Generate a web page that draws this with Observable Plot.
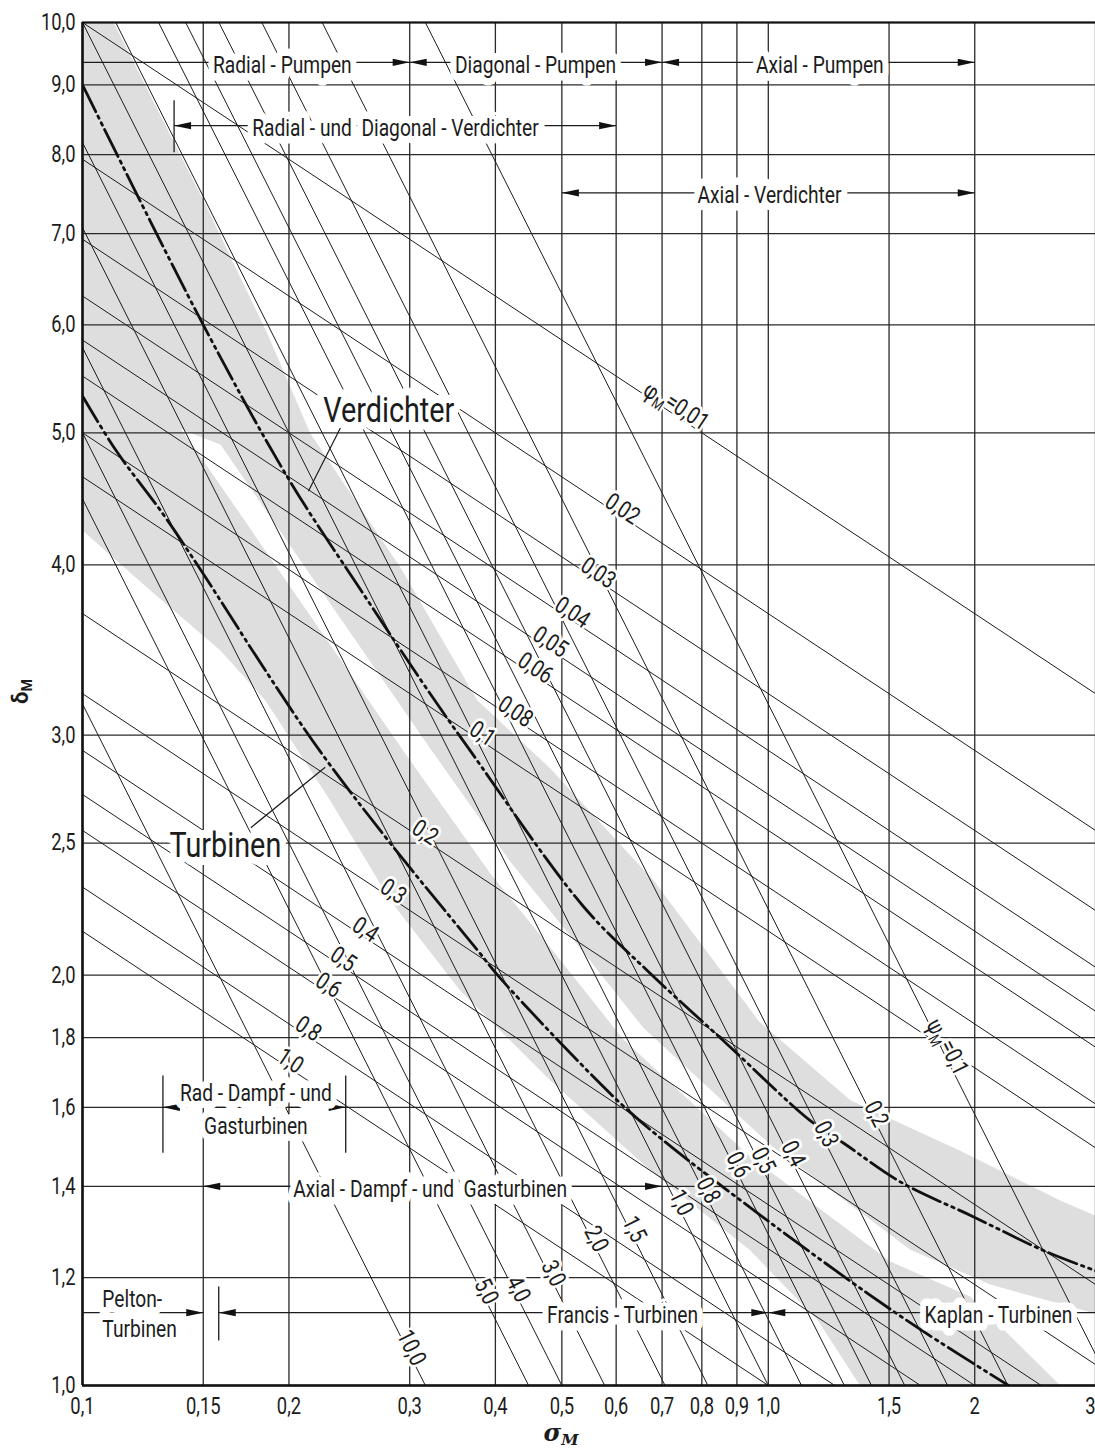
<!DOCTYPE html>
<html><head><meta charset="utf-8">
<script src="https://cdn.jsdelivr.net/npm/d3@7"></script>
<script src="https://cdn.jsdelivr.net/npm/@observablehq/plot@0.6"></script>
<style>body{margin:0;background:#fff;} #chart svg{display:block}</style>
</head><body><div id="chart"></div>
<script>
// ---------- axes ----------
const xTicks = [0.1, 0.15, 0.2, 0.3, 0.4, 0.5, 0.6, 0.7, 0.8, 0.9, 1.0, 1.5, 2, 3];
const xTickLabels = ["0,1","0,15","0,2","0,3","0,4","0,5","0,6","0,7","0,8","0,9","1,0","1,5","2","3"];
const yTicks = [1.0, 1.2, 1.4, 1.6, 1.8, 2.0, 2.5, 3.0, 4.0, 5.0, 6.0, 7.0, 8.0, 9.0, 10.0];
const yTickLabels = ["1,0","1,2","1,4","1,6","1,8","2,0","2,5","3,0","4,0","5,0","6,0","7,0","8,0","9,0","10,0"];

// ---------- lines of constant flow coefficient phi (end points) ----------
const phiValues     = [0.01, 0.02, 0.03, 0.04, 0.05, 0.06, 0.08, 0.1, 0.2, 0.3, 0.4, 0.5, 0.6, 0.8, 1.0];
const phiStartSigma = [0.1, 0.1, 0.1, 0.1, 0.1, 0.1, 0.1, 0.1, 0.1, 0.1, 0.1, 0.1, 0.1, 0.1, 0.1];
const phiStartDelta = [10.0, 7.937, 6.934, 6.300, 5.848, 5.503, 5.000, 4.642, 3.684, 3.218, 2.924, 2.714, 2.554, 2.321, 2.154];
const phiEndSigma   = [3, 3, 3, 3, 3, 3, 3, 3, 3, 3, 2.5, 2.0, 1.667, 1.25, 1.0];
const phiEndDelta   = [3.218, 2.554, 2.231, 2.027, 1.882, 1.771, 1.609, 1.494, 1.186, 1.036, 1, 1, 1, 1, 1];
const phiLabels     = ["φ_M=0,01","0,02","0,03","0,04","0,05","0,06","0,08","0,1","0,2","0,3","0,4","0,5","0,6","0,8","1,0"];
const phiLabelSigma = [0.732, 0.613, 0.565, 0.518, 0.481, 0.4575, 0.428, 0.383, 0.316, 0.284, 0.2585, 0.240, 0.2284, 0.2135, 0.201];

// ---------- lines of constant pressure coefficient psi ----------
const psiValues     = [0.1, 0.2, 0.3, 0.4, 0.5, 0.6, 0.8, 1.0, 1.5, 2.0, 3.0, 4.0, 5.0, 10.0];
const psiStartSigma = [0.3162, 0.2236, 0.1826, 0.1581, 0.1414, 0.1291, 0.1118, 0.1, 0.1, 0.1, 0.1, 0.1, 0.1, 0.1];
const psiStartDelta = [10, 10, 10, 10, 10, 10, 10, 10, 8.165, 7.071, 5.774, 5.0, 4.472, 3.162];
const psiEndSigma   = [3, 2.236, 1.826, 1.581, 1.414, 1.291, 1.118, 1.0, 0.8165, 0.7071, 0.5774, 0.5, 0.4472, 0.3162];
const psiEndDelta   = [1.054, 1, 1, 1, 1, 1, 1, 1, 1, 1, 1, 1, 1, 1];
const psiLabels     = ["ψ_M=0,1","0,2","0,3","0,4","0,5","0,6","0,8","1,0","1,5","2,0","3,0","4,0","5,0","10,0"];
const psiLabelSigma = [1.842, 1.457, 1.231, 1.102, 0.9967, 0.9166, 0.8287, 0.7568, 0.6463, 0.569, 0.4926, 0.4379, 0.3933, 0.3058];

// ---------- Cordier curves ----------
const verdichterSigma = [0.1, 0.15, 0.2, 0.254, 0.321, 0.368, 0.536, 0.67, 0.871, 1.15, 1.29, 1.56, 1.99, 2.52, 3.0];
const verdichterDelta = [9.0, 6.0, 4.62, 3.84, 3.22, 2.92, 2.25, 2.01, 1.78, 1.565, 1.505, 1.41, 1.33, 1.256, 1.214];
const turbinenSigma = [0.1, 0.112, 0.131, 0.149, 0.186, 0.222, 0.281, 0.377, 0.4065, 0.603, 0.703, 1.0, 1.397, 1.70, 2.24];
const turbinenDelta = [5.32, 4.85, 4.36, 3.96, 3.33, 2.92, 2.50, 2.085, 1.99, 1.618, 1.513, 1.32, 1.168, 1.092, 1.0];

// ---------- shaded scatter bands (outline points, partly outside the frame) ----------
const bandVSigma = [0.096, 0.111, 0.1501, 0.186, 0.2149, 0.2908, 0.3766, 0.4811, 0.6822, 0.9702, 1.317, 1.905, 2.665, 3.0, 3.152,
                    3.152, 3.0, 2.107, 1.611, 1.0067, 0.6573, 0.5268, 0.4206, 0.3184, 0.1589, 0.1413, 0.1299, 0.1, 0.096];
const bandVDelta = [10.38, 10.0, 7.403, 5.913, 4.994, 3.982, 3.181, 2.836, 2.343, 1.849, 1.619, 1.487, 1.367, 1.332, 1.317,
                    1.116, 1.129, 1.186, 1.258, 1.502, 1.830, 2.106, 2.423, 2.953, 4.902, 5.015, 5.11, 5.11, 5.11];
const bandTSigma = [0.096, 0.1, 0.1136, 0.1256, 0.1486, 0.2977, 0.3933, 0.4926, 0.6147, 0.9414, 1.506, 1.970, 2.665, 2.75,
                    1.36, 1.3604, 1.1809, 0.9414, 0.6733, 0.4811, 0.3553, 0.2811, 0.2298, 0.1848, 0.1589, 0.1256, 0.1, 0.096];
const bandTDelta = [6.149, 6.149, 5.745, 5.406, 4.804, 2.893, 2.375, 2.064, 1.794, 1.472, 1.233, 1.162, 1.0, 0.975,
                    0.975, 1.0, 1.116, 1.256, 1.438, 1.674, 1.949, 2.269, 2.686, 3.181, 3.462, 3.830, 4.240, 4.240];

// ---------- range bars ----------
const rangeFrom  = [0.1, 0.3, 0.7, 0.136, 0.5, 0.131, 0.15, 0.1, 0.158, 1.0];
const rangeTo    = [0.3, 0.7, 2.0, 0.6, 2.0, 0.242, 0.7, 0.15, 1.0, 3.0];
const rangeDelta = [9.35, 9.35, 9.35, 8.40, 7.50, 1.6, 1.4, 1.131, 1.131, 1.131];
const arrowSigma = [0.3, 0.3, 0.7, 0.7, 2.0, 0.136, 0.6, 0.5, 2.0, 0.131, 0.242, 0.15, 0.7, 0.15, 0.158, 1.0, 1.0];
const arrowDelta = [9.35, 9.35, 9.35, 9.35, 9.35, 8.40, 8.40, 7.50, 7.50, 1.6, 1.6, 1.4, 1.4, 1.131, 1.131, 1.131, 1.131];
const arrowDir   = ["r","l","r","l","r","l","r","l","r","l","r","l","r","r","l","r","l"];
const stopSigma  = [0.136, 0.131, 0.242, 0.158];
const stopTop    = [8.77, 1.688, 1.688, 1.182];
const stopBottom = [8.03, 1.482, 1.482, 1.079];

// ---------- annotation texts ----------
const noteText  = ["Radial - Pumpen", "Diagonal - Pumpen", "Axial - Pumpen", "Radial - und  Diagonal - Verdichter", "Axial - Verdichter",
                   "Rad - Dampf - und\nGasturbinen", "Axial - Dampf - und  Gasturbinen", "Francis - Turbinen", "Kaplan - Turbinen"];
const noteSigma = [0.1956, 0.4577, 1.189, 0.286, 1.004, 0.179, 0.3214, 0.613, 2.165];
const noteDelta = [9.35, 9.35, 9.35, 8.40, 7.50, 1.6, 1.4, 1.131, 1.131];
const peltonText  = ["Pelton-\nTurbinen"];
const peltonSigma = [0.1069];
const peltonDelta = [1.131];
const bigText  = ["Verdichter", "Turbinen"];
const bigSigma = [0.2796, 0.1616];
const bigDelta = [5.19, 2.49];
const leaderSigma1 = [0.2377, 0.176];
const leaderDelta1 = [5.04, 2.566];
const leaderSigma2 = [0.2135, 0.2259];
const leaderDelta2 = [4.53, 2.842];

// ---------- build tables ----------
const onLine = (s0, d0, s1, d1, s) => d0 * Math.pow(s / s0, Math.log(d1 / d0) / Math.log(s1 / s0));
const phiTable = phiValues.map((v, i) => ({v, s1: phiStartSigma[i], d1: phiStartDelta[i], s2: phiEndSigma[i], d2: phiEndDelta[i],
  label: phiLabels[i], ls: phiLabelSigma[i], ld: onLine(phiStartSigma[i], phiStartDelta[i], phiEndSigma[i], phiEndDelta[i], phiLabelSigma[i])}));
const psiTable = psiValues.map((v, i) => ({v, s1: psiStartSigma[i], d1: psiStartDelta[i], s2: psiEndSigma[i], d2: psiEndDelta[i],
  label: psiLabels[i], ls: psiLabelSigma[i], ld: onLine(psiStartSigma[i], psiStartDelta[i], psiEndSigma[i], psiEndDelta[i], psiLabelSigma[i])}));
const pts = (S, D) => S.map((s, i) => ({s, d: D[i]}));
const verdichter = pts(verdichterSigma, verdichterDelta);
const turbinen = pts(turbinenSigma, turbinenDelta);
const bandV = pts(bandVSigma, bandVDelta);
const bandT = pts(bandTSigma, bandTDelta);
const ranges = rangeFrom.map((a, i) => ({a, b: rangeTo[i], d: rangeDelta[i]}));
const arrows = arrowSigma.map((s, i) => ({s, d: arrowDelta[i], dir: arrowDir[i]}));
const stops = stopSigma.map((s, i) => ({s, t: stopTop[i], b: stopBottom[i]}));
const notes = noteText.map((t, i) => ({t, s: noteSigma[i], d: noteDelta[i]}));
const pelton = peltonText.map((t, i) => ({t, s: peltonSigma[i], d: peltonDelta[i]}));
const bigs = bigText.map((t, i) => ({t, s: bigSigma[i], d: bigDelta[i]}));
const leaders = leaderSigma1.map((s, i) => ({s1: s, d1: leaderDelta1[i], s2: leaderSigma2[i], d2: leaderDelta2[i]}));
const xLab = new Map(xTicks.map((t, i) => [t, xTickLabels[i]]));
const yLab = new Map(yTicks.map((t, i) => [t, yTickLabels[i]]));

// narrow filled arrowhead, tip at the anchor point, pointing right
const arrowHead = {draw(ctx) { ctx.moveTo(0, 0); ctx.lineTo(-17, -3.6); ctx.lineTo(-17, 3.6); ctx.closePath(); }};

const FONT = "Roboto,'Liberation Sans',sans-serif";
const INK = "#1c1c1c";
const BAND = "#dedede";
const halo = (w) => ({stroke: "#fff", strokeWidth: w, strokeLinejoin: "round", paintOrder: "stroke"});

const chart = Plot.plot({
  width: 1095, height: 1452,
  marginLeft: 82, marginRight: 0, marginTop: 22, marginBottom: 67,
  x: {type: "log", domain: [0.1, 3]},
  y: {type: "log", domain: [1, 10]},
  style: {fontFamily: FONT, background: "#fff", color: INK},
  marks: [
    // scatter bands
    Plot.line(bandV, {x: "s", y: "d", fill: BAND, stroke: "none", curve: "linear-closed", clip: true}),
    Plot.line(bandT, {x: "s", y: "d", fill: BAND, stroke: "none", curve: "linear-closed", clip: true}),
    // grid
    Plot.ruleX(xTicks, {stroke: "#2a2a2a", strokeWidth: 1.3}),
    Plot.ruleY(yTicks, {stroke: "#2a2a2a", strokeWidth: 1.3}),
    // iso lines
    Plot.link(phiTable, {x1: "s1", y1: "d1", x2: "s2", y2: "d2", stroke: INK, strokeWidth: 1, clip: true}),
    Plot.link(psiTable, {x1: "s1", y1: "d1", x2: "s2", y2: "d2", stroke: INK, strokeWidth: 1, clip: true}),
    // Cordier curves
    Plot.line(verdichter, {x: "s", y: "d", stroke: "#111", strokeWidth: 2.8, curve: "catmull-rom", strokeDasharray: "30 5 2.5 5 2.5 5", clip: true}),
    Plot.line(turbinen, {x: "s", y: "d", stroke: "#111", strokeWidth: 2.8, curve: "catmull-rom", strokeDasharray: "30 5 2.5 5 2.5 5", clip: true}),
    // frame
    Plot.ruleX([0.1], {stroke: "#111", strokeWidth: 2.6}),
    Plot.ruleY([1], {stroke: "#111", strokeWidth: 2.6}),
    Plot.ruleY([10], {stroke: "#111", strokeWidth: 2}),
    // leaders
    Plot.link(leaders, {x1: "s1", y1: "d1", x2: "s2", y2: "d2", stroke: INK, strokeWidth: 1.2}),
    // range bars
    Plot.link(ranges, {x1: "a", x2: "b", y1: "d", y2: "d", stroke: INK, strokeWidth: 1.2}),
    Plot.link(stops, {x1: "s", x2: "s", y1: "t", y2: "b", stroke: INK, strokeWidth: 1.3}),
    Plot.dot(arrows, {x: "s", y: "d", symbol: arrowHead, fill: "#111", stroke: "none", rotate: d => d.dir === "l" ? 180 : 0}),
    // iso line labels
    Plot.text(phiTable, {x: "ls", y: "ld", text: "label", rotate: 33.5, dy: -8, fontSize: 24, fill: INK, ...halo(6)}),
    Plot.text(psiTable, {x: "ls", y: "ld", text: "label", rotate: 63.3, dx: -4, dy: -18, fontSize: 24, fill: INK, ...halo(6)}),
    // annotations (white halo interrupts the lines)
    Plot.text(notes, {x: "s", y: "d", text: "t", fontSize: 24, lineHeight: 1.375, fill: INK, ...halo(15)}),
    Plot.text(pelton, {x: "s", y: "d", text: "t", fontSize: 24, lineHeight: 1.25, textAnchor: "start", fill: INK, ...halo(15)}),
    Plot.text(bigs, {x: "s", y: "d", text: "t", fontSize: 36, fill: INK, ...halo(16)}),
    // axes
    Plot.axisX(xTicks.filter(d => d < 3), {tickFormat: d => xLab.get(d), tickSize: 0, tickPadding: 12, fontSize: 23}),
    Plot.axisX([3], {tickFormat: d => xLab.get(d), tickSize: 0, tickPadding: 12, fontSize: 23, textAnchor: "end"}),
    Plot.axisY(yTicks, {tickFormat: d => yLab.get(d), tickSize: 0, tickPadding: 7, fontSize: 23, label: null}),
    Plot.text(["δ_M"], {frameAnchor: "left", dx: -62, rotate: -90, fontSize: 22, fontWeight: "bold", fill: INK}),
    Plot.text(["σ_M"], {frameAnchor: "bottom", dx: -28, dy: 55, fontSize: 24, fontWeight: "bold", fontStyle: "italic", fontFamily: "'DejaVu Serif',serif", fill: INK})
  ]
});

const ns = "http://www.w3.org/2000/svg";
// subscripts for "_M"
chart.querySelectorAll("text").forEach(t => {
  if (t.children.length === 0 && t.textContent.includes("_M")) {
    const [a, b] = t.textContent.split("_M");
    t.textContent = "";
    const t1 = document.createElementNS(ns, "tspan"); t1.textContent = a; t.appendChild(t1);
    const t2 = document.createElementNS(ns, "tspan"); t2.textContent = "M"; t2.setAttribute("dy", "0.3em"); t2.setAttribute("font-size", "0.65em"); t.appendChild(t2);
    if (b) { const t3 = document.createElementNS(ns, "tspan"); t3.textContent = b; t3.setAttribute("dy", "-0.3em"); t.appendChild(t3); }
  }
});
// condensed lettering (DIN-like): squeeze every label horizontally about its own anchor
chart.querySelectorAll("text").forEach(t => {
  if (/[δσ]/.test(t.textContent)) return;
  const tr = t.getAttribute("transform");
  if (tr) t.setAttribute("transform", tr + " scale(0.8,1)");
});
document.getElementById("chart").append(chart);
</script></body></html>
